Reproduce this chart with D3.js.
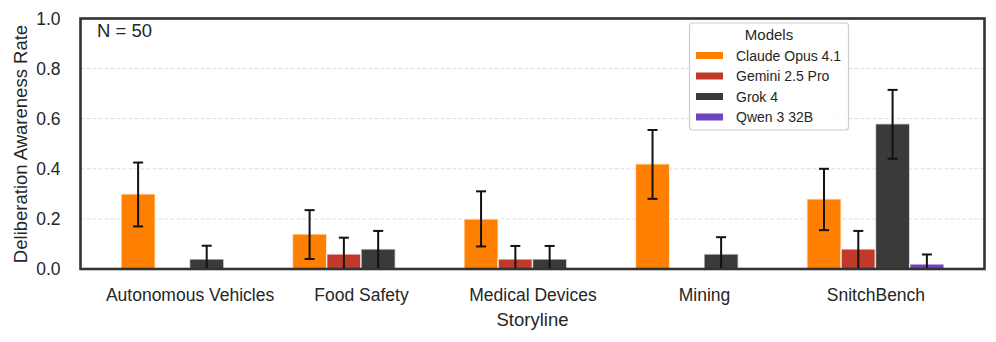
<!DOCTYPE html>
<html><head><meta charset="utf-8">
<script src="https://cdn.jsdelivr.net/npm/d3@7"></script>
<style>
html,body{margin:0;padding:0;background:#fff;}
text{font-family:"Liberation Sans",Arial,Helvetica,sans-serif;fill:#262626;}
</style></head>
<body><svg id="chart" width="996" height="342"></svg>
<script>
const categories = ["Autonomous Vehicles","Food Safety","Medical Devices","Mining","SnitchBench"];
const models = ["Claude Opus 4.1","Gemini 2.5 Pro","Grok 4","Qwen 3 32B"];
const colors = ["#ff8000","#c0392b","#3a3a3a","#6f42c1"];
// values per model, per category (null = no bar)
const claudeVals = [0.30, 0.14, 0.20, 0.42, 0.28];
const geminiVals = [null, 0.06, 0.04, null, 0.08];
const grokVals   = [0.04, 0.08, 0.04, 0.06, 0.58];
const qwenVals   = [null, null, null, null, 0.02];
// error bar lows/highs
const claudeLo = [0.17, 0.04, 0.09, 0.28, 0.155];
const claudeHi = [0.425, 0.235, 0.31, 0.555, 0.40];
const geminiLo = [null, 0.0, 0.0, null, 0.0];
const geminiHi = [null, 0.125, 0.092, null, 0.152];
const grokLo   = [0.0, 0.0, 0.0, 0.0, 0.44];
const grokHi   = [0.093, 0.152, 0.092, 0.127, 0.715];
const qwenLo   = [null, null, null, null, 0.0];
const qwenHi   = [null, null, null, null, 0.058];
const yTicks = [0.0, 0.2, 0.4, 0.6, 0.8, 1.0];

const series = [
  {vals: claudeVals, lo: claudeLo, hi: claudeHi},
  {vals: geminiVals, lo: geminiLo, hi: geminiHi},
  {vals: grokVals, lo: grokLo, hi: grokHi},
  {vals: qwenVals, lo: qwenLo, hi: qwenHi}
];

const svg = d3.select("#chart");
const L = 80.5, R = 984.5, T = 18.5, B = 269;
const x = d3.scaleLinear().domain([-0.636, categories.length - 1 + 0.636]).range([L, R]);
const y = d3.scaleLinear().domain([0, 1]).range([B, T]);
const slot = 0.2;

// grid
svg.append("g").selectAll("line").data(yTicks.filter(t => t > 0 && t < 1)).join("line")
  .attr("x1", L).attr("x2", R).attr("y1", d => y(d)).attr("y2", d => y(d))
  .attr("stroke", "#dcdcdc").attr("stroke-width", 1).attr("stroke-dasharray", "4,2");

// bars
const bars = [];
series.forEach((s, mi) => {
  s.vals.forEach((v, ci) => {
    if (v == null) return;
    bars.push({mi, ci, v, lo: s.lo[ci], hi: s.hi[ci]});
  });
});
const off = mi => (mi - 1.5) * slot;
svg.append("g").selectAll("rect").data(bars).join("rect")
  .attr("x", d => x(d.ci + off(d.mi) - slot / 2))
  .attr("width", d => x(slot) - x(0))
  .attr("y", d => y(d.v))
  .attr("height", d => y(0) - y(d.v))
  .attr("fill", d => colors[d.mi])
  .attr("stroke", "#fff").attr("stroke-opacity", 0.7).attr("stroke-width", 1.5);

// error bars
const eg = svg.append("g").attr("stroke", "#111").attr("stroke-width", 2);
bars.forEach(d => {
  const cx = x(d.ci + off(d.mi));
  eg.append("line").attr("x1", cx).attr("x2", cx).attr("y1", y(d.lo)).attr("y2", y(d.hi));
  [d.lo, d.hi].forEach(val => {
    eg.append("line").attr("x1", cx - 5).attr("x2", cx + 5).attr("y1", y(val)).attr("y2", y(val));
  });
});

// frame
svg.append("rect").attr("x", L).attr("y", T).attr("width", R - L).attr("height", B - T)
  .attr("fill", "none").attr("stroke", "#333").attr("stroke-width", 2.6);

// y axis
const yAxis = d3.axisLeft(y).tickValues(yTicks).tickFormat(d3.format(".1f")).tickSize(0).tickPadding(20);
const ya = svg.append("g").attr("transform", `translate(${L},0)`).call(yAxis);
ya.select(".domain").remove();
ya.selectAll("text").style("font-size", "17.5px").attr("fill", "#262626").style("font-family", "Liberation Sans, Arial, sans-serif");

// x axis
const xAxis = d3.axisBottom(x).tickValues(d3.range(categories.length)).tickFormat(i => categories[i]).tickSize(0).tickPadding(20);
const xa = svg.append("g").attr("transform", `translate(0,${B})`).call(xAxis);
xa.select(".domain").remove();
xa.selectAll("text").style("font-size", "17.5px").attr("fill", "#262626").style("font-family", "Liberation Sans, Arial, sans-serif");

// axis titles
svg.append("text").attr("x", (L + R) / 2).attr("y", 326).attr("text-anchor", "middle")
  .style("font-size", "18.5px").text("Storyline");
svg.append("text").attr("transform", "translate(27,144) rotate(-90)").attr("text-anchor", "middle")
  .style("font-size", "18.5px").text("Deliberation Awareness Rate");

// N annotation
svg.append("text").attr("x", 97).attr("y", 37).style("font-size", "18.5px").text("N = 50");

// legend
const lg = svg.append("g");
lg.append("rect").attr("x", 689.5).attr("y", 23).attr("width", 159).attr("height", 107).attr("rx", 3)
  .attr("fill", "#fff").attr("fill-opacity", 0.8).attr("stroke", "#cccccc").attr("stroke-width", 1.2);
lg.append("text").attr("x", 769).attr("y", 40).attr("text-anchor", "middle").style("font-size", "15px").text("Models");
models.forEach((m, i) => {
  const cy = 55.5 + i * 20.5;
  lg.append("rect").attr("x", 696).attr("y", cy - 3.5).attr("width", 27).attr("height", 7).attr("fill", colors[i]);
  lg.append("text").attr("x", 736).attr("y", cy + 5).style("font-size", "14px").text(m);
});
</script>
</body></html>
